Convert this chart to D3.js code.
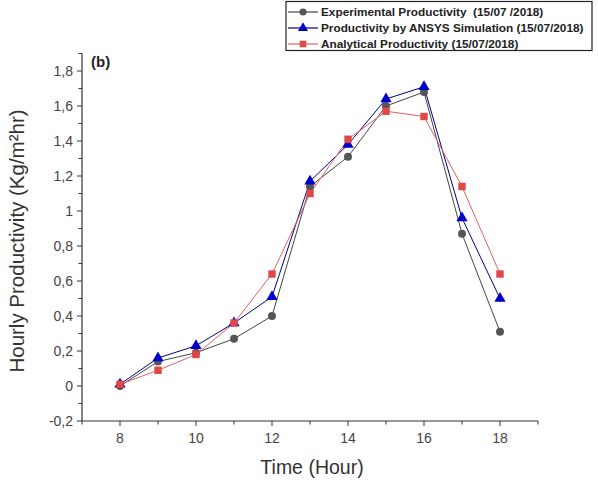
<!DOCTYPE html>
<html><head><meta charset="utf-8">
<script src="https://cdn.jsdelivr.net/npm/d3@7"></script>
<style>body{margin:0;background:#fff}svg{display:block}</style>
</head><body><svg id="c" width="598" height="484"></svg>
<script>
const hours = [8,9,10,11,12,13,14,15,16,17,18];
const experimental = [0.00,0.14,0.19,0.27,0.40,1.14,1.31,1.60,1.68,0.87,0.31];
const ansys = [0.01,0.16,0.23,0.36,0.51,1.17,1.38,1.64,1.71,0.96,0.50];
const analytical = [0.01,0.09,0.18,0.36,0.64,1.10,1.41,1.57,1.54,1.14,0.64];
const seriesNames = ["Experimental Productivity  (15/07 /2018)","Productivity by ANSYS Simulation (15/07/2018)","Analytical Productivity (15/07/2018)"];
const yTicks = [-0.2,0,0.2,0.4,0.6,0.8,1,1.2,1.4,1.6,1.8];
const xTicks = [8,10,12,14,16,18];

const svg = d3.select("#c");
const x = d3.scaleLinear().domain([7,19]).range([82,538]);
const y = d3.scaleLinear().domain([-0.2,1.9]).range([421,53.5]);
const font = "Arial, 'Liberation Sans', sans-serif";

// x axis
const xAxis = svg.append("g").attr("transform","translate(0,421)");
xAxis.append("line").attr("x1",x(7)).attr("x2",x(19)).attr("stroke","#333").attr("stroke-width",1.2);
d3.range(7,19.5,1).forEach(v=>{
  xAxis.append("line").attr("x1",x(v)).attr("x2",x(v)).attr("y1",0).attr("y2", xTicks.includes(v)?5:3.5).attr("stroke","#333");
});
xTicks.forEach(v=>{
  xAxis.append("text").attr("x",x(v)).attr("y",22).attr("text-anchor","middle")
    .attr("font-family",font).attr("font-size",14).attr("fill","#444").text(v);
});
svg.append("text").attr("x",312).attr("y",474).attr("text-anchor","middle")
  .attr("font-family",font).attr("font-size",19.5).attr("fill","#333").text("Time (Hour)");

// y axis
const yAxis = svg.append("g").attr("transform","translate(82,0)");
yAxis.append("line").attr("y1",y(-0.2)).attr("y2",y(1.9)).attr("stroke","#333").attr("stroke-width",1.2);
d3.range(-2,20,1).forEach(i=>{
  const v = i/10;
  const major = i%2===0;
  yAxis.append("line").attr("x1",0).attr("x2",major?-5:-3.5).attr("y1",y(v)).attr("y2",y(v)).attr("stroke","#333");
});
const fmt = v => (Math.abs(v-Math.round(v))<1e-9 ? String(Math.round(v)) : v.toFixed(1).replace(".",","));
yTicks.forEach(v=>{
  yAxis.append("text").attr("x",-9).attr("y",y(v)).attr("dy","0.35em").attr("text-anchor","end")
    .attr("font-family",font).attr("font-size",14).attr("fill","#444").text(fmt(v));
});
svg.append("text").attr("transform","translate(24,241) rotate(-90)").attr("text-anchor","middle")
  .attr("font-family",font).attr("font-size",20.5).attr("fill","#333").text("Hourly Productivity (Kg/m²hr)");

svg.append("text").attr("x",91).attr("y",67).attr("font-family",font).attr("font-weight","bold")
  .attr("font-size",15).attr("fill","#222").text("(b)");

// series
const series = [
  {vals: experimental, color:"#555555", line:"#444444", shape:d3.symbolCircle, size:50},
  {vals: ansys, color:"#0000cc", line:"#000088", shape:d3.symbolTriangle, size:55},
  {vals: analytical, color:"#e04848", line:"#e06060", shape:d3.symbolSquare, size:55}
];
const line = d3.line().x((d,i)=>x(hours[i])).y(d=>y(d));
series.forEach(s=>{
  svg.append("path").attr("d",line(s.vals)).attr("fill","none").attr("stroke",s.line).attr("stroke-width",1);
});
series.forEach(s=>{
  svg.append("g").selectAll("path").data(s.vals).join("path")
    .attr("transform",(d,i)=>`translate(${x(hours[i])},${y(d)})`)
    .attr("d",d3.symbol().type(s.shape).size(s.size)).attr("fill",s.color);
});

// legend
const lg = svg.append("g");
lg.append("rect").attr("x",286).attr("y",1.5).attr("width",306).attr("height",49)
  .attr("fill","#fff").attr("stroke","#222").attr("stroke-width",1.2);
series.forEach((s,i)=>{
  const cy = 12 + i*16;
  lg.append("line").attr("x1",288).attr("x2",318).attr("y1",cy).attr("y2",cy).attr("stroke",s.line).attr("stroke-width",1.2);
  lg.append("path").attr("transform",`translate(303,${cy})`).attr("d",d3.symbol().type(s.shape).size(s.size*0.8)).attr("fill",s.color);
  lg.append("text").attr("x",321).attr("y",cy).attr("dy","0.35em").attr("font-family",font)
    .style("white-space","pre")
    .attr("font-weight","bold").attr("font-size",11.8).attr("fill","#222").text(seriesNames[i]);
});
</script></body></html>
